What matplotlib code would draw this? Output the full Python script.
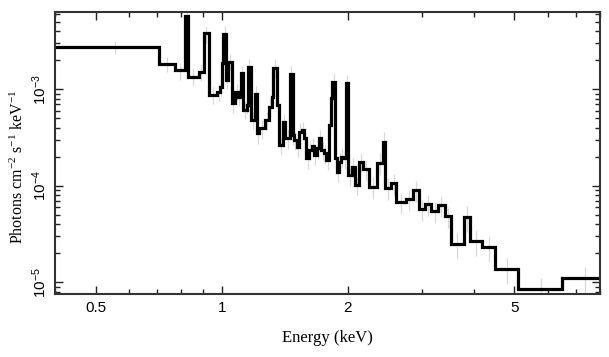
import matplotlib
matplotlib.use("Agg")
import matplotlib.pyplot as plt
import numpy as np
from matplotlib.ticker import FixedLocator, NullFormatter

# Bin edges (keV) of the binned spectrum
edges = [0.40, 0.707, 0.772, 0.818, 0.829, 0.879, 0.907, 0.929, 0.974, 0.989,
         1.002, 1.008, 1.022, 1.035, 1.055, 1.074, 1.094, 1.108, 1.124, 1.145,
         1.155, 1.171, 1.197, 1.210, 1.227, 1.266, 1.297, 1.314, 1.326, 1.351,
         1.370, 1.400, 1.418, 1.453, 1.475, 1.485, 1.508, 1.529, 1.550, 1.569,
         1.586, 1.616, 1.637, 1.658, 1.683, 1.707, 1.729, 1.754, 1.777, 1.803,
         1.820, 1.837, 1.860, 1.878, 1.905, 1.930, 1.948, 1.977, 2.002, 2.040,
         2.077, 2.127, 2.170, 2.247, 2.348, 2.419, 2.454, 2.532, 2.612, 2.749,
         2.861, 2.953, 3.064, 3.166, 3.283, 3.406, 3.520, 3.782, 3.908, 4.181,
         4.500, 5.096, 6.504, 8.2]

# Flux density per bin (photons cm^-2 s^-1 keV^-1)
flux = [2.76e-3, 1.83e-3, 1.57e-3, 5.75e-3, 1.35e-3, 1.51e-3, 3.80e-3, 0.879e-3, 0.944e-3,
        1.05e-3, 1.86e-3, 3.74e-3, 1.25e-3, 1.93e-3, 0.716e-3, 0.944e-3, 0.838e-3, 1.47e-3,
        0.610e-3, 0.688e-3, 1.72e-3, 0.481e-3, 0.894e-3, 0.350e-3, 0.394e-3, 0.481e-3,
        0.660e-3, 0.838e-3, 1.68e-3, 0.688e-3, 0.265e-3, 0.458e-3, 0.311e-3, 1.43e-3,
        0.336e-3, 0.298e-3, 0.254e-3, 0.364e-3, 0.379e-3, 0.311e-3, 0.193e-3, 0.235e-3,
        0.258e-3, 0.209e-3, 0.245e-3, 0.311e-3, 0.235e-3, 0.217e-3, 0.185e-3, 0.427e-3,
        0.807e-3, 1.20e-3, 0.193e-3, 0.140e-3, 0.178e-3, 0.200e-3, 0.193e-3, 1.15e-3,
        0.129e-3, 0.158e-3, 0.102e-3, 0.178e-3, 0.148e-3, 0.0979e-3, 0.173e-3, 0.286e-3,
        0.0956e-3, 0.106e-3, 0.0675e-3, 0.0730e-3, 0.0905e-3, 0.0571e-3, 0.0648e-3,
        0.0548e-3, 0.0632e-3, 0.0486e-3, 0.0248e-3, 0.0472e-3, 0.0270e-3, 0.0234e-3,
        0.0137e-3, 0.00846e-3, 0.0112e-3]

# Approximate relative 1-sigma errors of each bin
rel_err = [0.15, 0.18, 0.2, 0.2, 0.2, 0.2, 0.2, 0.2, 0.2, 0.2,
           0.2, 0.2, 0.2, 0.2, 0.2, 0.2, 0.2, 0.2, 0.2, 0.2,
           0.2, 0.2, 0.2, 0.22, 0.22, 0.22, 0.22, 0.22, 0.22, 0.22,
           0.22, 0.22, 0.22, 0.22, 0.22, 0.22, 0.22, 0.22, 0.22, 0.22,
           0.22, 0.22, 0.22, 0.22, 0.22, 0.22, 0.22, 0.22, 0.22, 0.22,
           0.22, 0.22, 0.22, 0.22, 0.22, 0.22, 0.22, 0.22, 0.22, 0.22,
           0.22, 0.22, 0.25, 0.25, 0.25, 0.25, 0.25, 0.25, 0.25, 0.25,
           0.25, 0.25, 0.25, 0.25, 0.25, 0.25, 0.3, 0.3, 0.3, 0.3,
           0.3, 0.3, 0.3]

xticks_major = [0.5, 1, 2, 5]
xtick_labels = ["0.5", "1", "2", "5"]
xticks_minor = [0.4, 0.6, 0.7, 0.8, 0.9, 3, 4, 6, 7, 8]
yticks_major = [1e-5, 1e-4, 1e-3]
ytick_labels = [r"$\mathregular{10^{-5}}$", r"$\mathregular{10^{-4}}$", r"$\mathregular{10^{-3}}$"]

edges_a = np.array(edges)
flux_a = np.array(flux)
err_a = np.array(rel_err) * flux_a
centers = 0.5 * (edges_a[:-1] + edges_a[1:])

fig = plt.figure(figsize=(6.09, 3.57), dpi=100)
ax = fig.add_axes([0.0911, 0.1765, 0.8939, 0.7907])

ax.errorbar(centers, flux_a, yerr=err_a, fmt="none", ecolor="#d8d8d8",
            elinewidth=0.9, capsize=0, zorder=1)
ax.stairs(flux_a, edges_a, baseline=None, color="black", linewidth=2.3, zorder=2)

ax.set_xscale("log")
ax.set_yscale("log")
ax.set_xlim(0.4, 8.0)
ax.set_ylim(7.57e-6, 6.37e-3)

ax.xaxis.set_major_locator(FixedLocator(xticks_major))
ax.set_xticklabels(xtick_labels, family="Liberation Sans", fontsize=11)
ax.xaxis.set_minor_locator(FixedLocator(xticks_minor))
ax.xaxis.set_minor_formatter(NullFormatter())

ax.yaxis.set_major_locator(FixedLocator(yticks_major))
ax.set_yticklabels(ytick_labels, family="Liberation Sans", fontsize=11,
                   rotation=90, va="center")
ax.yaxis.set_minor_locator(FixedLocator(
    [m * 10.0 ** e for e in (-6, -5, -4, -3) for m in range(2, 10)]))
ax.yaxis.set_minor_formatter(NullFormatter())

ax.tick_params(which="both", direction="in", top=True, right=True, width=1.0, color="#222222")
ax.tick_params(which="major", length=6, pad=5)
ax.tick_params(which="minor", length=3.5)
for s in ax.spines.values():
    s.set_linewidth(1.5)
    s.set_color("#333333")

ax.set_xlabel("Energy (keV)", family="Liberation Serif", fontsize=12, labelpad=11)
ax.set_ylabel(r"Photons cm$\mathregular{^{-2}}$ s$\mathregular{^{-1}}$ keV$\mathregular{^{-1}}$",
              family="Liberation Serif", fontsize=11.5)
ax.yaxis.set_label_coords(-0.052, 0.45)

fig.savefig("out.png", dpi=100)
